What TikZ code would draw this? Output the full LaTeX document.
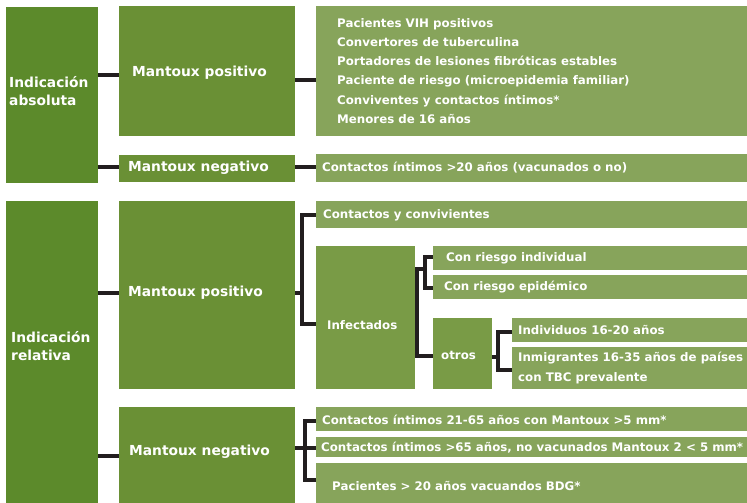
\documentclass[tikz,border=0pt]{standalone}
\usepackage{fontspec}
\setmainfont{DejaVu Sans}
\definecolor{gA}{HTML}{5C8A2B}
\definecolor{gB}{HTML}{6A9035}
\definecolor{gC}{HTML}{799B46}
\definecolor{gD}{HTML}{87A45B}
\definecolor{lnk}{HTML}{221E1F}
\tikzset{
  box/.style={anchor=north west, inner sep=0pt, outer sep=0pt, draw=none},
  lvlA/.style={box, fill=gA},
  lvlB/.style={box, fill=gB},
  lvlC/.style={box, fill=gC},
  lvlD/.style={box, fill=gD},
  lbl/.style={anchor=west, inner sep=0pt, text=white, align=left},
  head/.style={lbl, font=\fontsize{13.8}{18}\selectfont\bfseries},
  leaf/.style={lbl, font=\fontsize{11.8}{19.2}\selectfont\bfseries},
  conn/.style={line width=3.5pt, draw=lnk},
}
% #1 name, #2 style, #3 left, #4 top, #5 width, #6 height (y grows downwards)
\newcommand\greenbox[6]{\node[#2, minimum width=#5pt, minimum height=#6pt] (#1) at (#3,-#4) {};}
\begin{document}
\begin{tikzpicture}[x=1pt,y=1pt]
\useasboundingbox (0,0) rectangle (747,-503);

% ---- Indicación absoluta ----
\greenbox{absB}{lvlA}{6}{7}{92}{176}
\node[head] (absT) at (9,-91) {Indicación\\absoluta};
\greenbox{mpaB}{lvlB}{119}{6}{176}{130}
\node[head] (mpaT) at (132,-73) {Mantoux positivo};
\greenbox{lstB}{lvlD}{316}{6}{431}{130}
\node[leaf] (lstT) at (337,-71) {Pacientes VIH positivos\\Convertores de tuberculina\\Portadores de lesiones fibróticas estables\\Paciente de riesgo (microepidemia familiar)\\Conviventes y contactos íntimos*\\Menores de 16 años};
\greenbox{mnaB}{lvlB}{119}{155}{176}{27}
\node[head] (mnaT) at (128,-168) {Mantoux negativo};
\greenbox{ctaB}{lvlD}{316}{154}{431}{28}
\node[leaf] (ctaT) at (322,-168) {Contactos íntimos >20 años (vacunados o no)};

% ---- Indicación relativa ----
\greenbox{relB}{lvlA}{6}{201}{92}{302}
\node[head] (relT) at (11,-346) {Indicación\\relativa};
\greenbox{mprB}{lvlB}{119}{201}{176}{188}
\node[head] (mprT) at (128,-293) {Mantoux positivo};
\greenbox{ccB}{lvlD}{316}{201}{431}{27}
\node[leaf] (ccT) at (323,-215) {Contactos y convivientes};
\greenbox{infB}{lvlC}{316}{246}{99}{143}
\node[leaf] (infT) at (327,-325) {Infectados};
\greenbox{riB}{lvlD}{433}{246}{314}{24}
\node[leaf] (riT) at (446,-258) {Con riesgo individual};
\greenbox{reB}{lvlD}{433}{275}{314}{24}
\node[leaf] (reT) at (444,-287) {Con riesgo epidémico};
\greenbox{otB}{lvlC}{433}{318}{59}{71}
\node[leaf] (otT) at (441,-355) {otros};
\greenbox{idB}{lvlD}{512}{318}{235}{24}
\node[leaf] (idT) at (518,-330) {Individuos 16-20 años};
\greenbox{inB}{lvlD}{512}{347}{235}{42}
\node[leaf] (inT) at (518,-368) {Inmigrantes 16-35 años de países\\con TBC prevalente};
\greenbox{mnrB}{lvlB}{119}{407}{176}{96}
\node[head] (mnrT) at (129,-452) {Mantoux negativo};
\greenbox{kaB}{lvlD}{316}{407}{431}{24}
\node[leaf] (kaT) at (322,-420) {Contactos íntimos 21-65 años con Mantoux >5 mm*};
\greenbox{kbB}{lvlD}{316}{437}{431}{20}
\node[leaf] (kbT) at (321,-448) {Contactos íntimos >65 años, no vacunados Mantoux 2 < 5 mm*};
\greenbox{pvB}{lvlD}{316}{463}{431}{40}
\node[leaf] (pvT) at (332,-486) {Pacientes > 20 años vacuandos BDG*};

% ---- connectors ----
\draw[conn] (absB.east |- 0,-75) -- (mpaB.west |- 0,-75);
\draw[conn] (mpaB.east |- 0,-80) -- (lstB.west |- 0,-80);
\draw[conn] (absB.east |- 0,-167) -- (mnaB.west |- 0,-167);
\draw[conn] (mnaB.east |- 0,-167) -- (ctaB.west |- 0,-167);

\draw[conn] (relB.east |- 0,-293) -- (mprB.west |- 0,-293);
\draw[conn] (relB.east |- 0,-456) -- (mnrB.west |- 0,-456);

\coordinate (j1) at (302,-293);
\draw[conn] (mprB.east |- j1) -- (j1);
\draw[conn] (ccB.west |- 0,-215) -| (j1) |- (infB.west |- 0,-324);

\coordinate (j2) at (425,-269);
\coordinate (j3) at (417,-356);
\draw[conn] (riB.west |- 0,-257) -| (j2) |- (reB.west |- 0,-288);
\draw[conn] (j2) -| (j3) -- (otB.west |- j3);

\coordinate (j4) at (498,-357);
\draw[conn] (otB.east |- j4) -- (j4);
\draw[conn] (idB.west |- 0,-332) -| (j4) |- (inB.west |- 0,-370);

\coordinate (j5) at (305,-448);
\draw[conn] (mnrB.east |- j5) -- (kbB.west |- j5);
\draw[conn] (kaB.west |- 0,-421) -| (j5) |- (pvB.west |- 0,-480);
\end{tikzpicture}
\end{document}
